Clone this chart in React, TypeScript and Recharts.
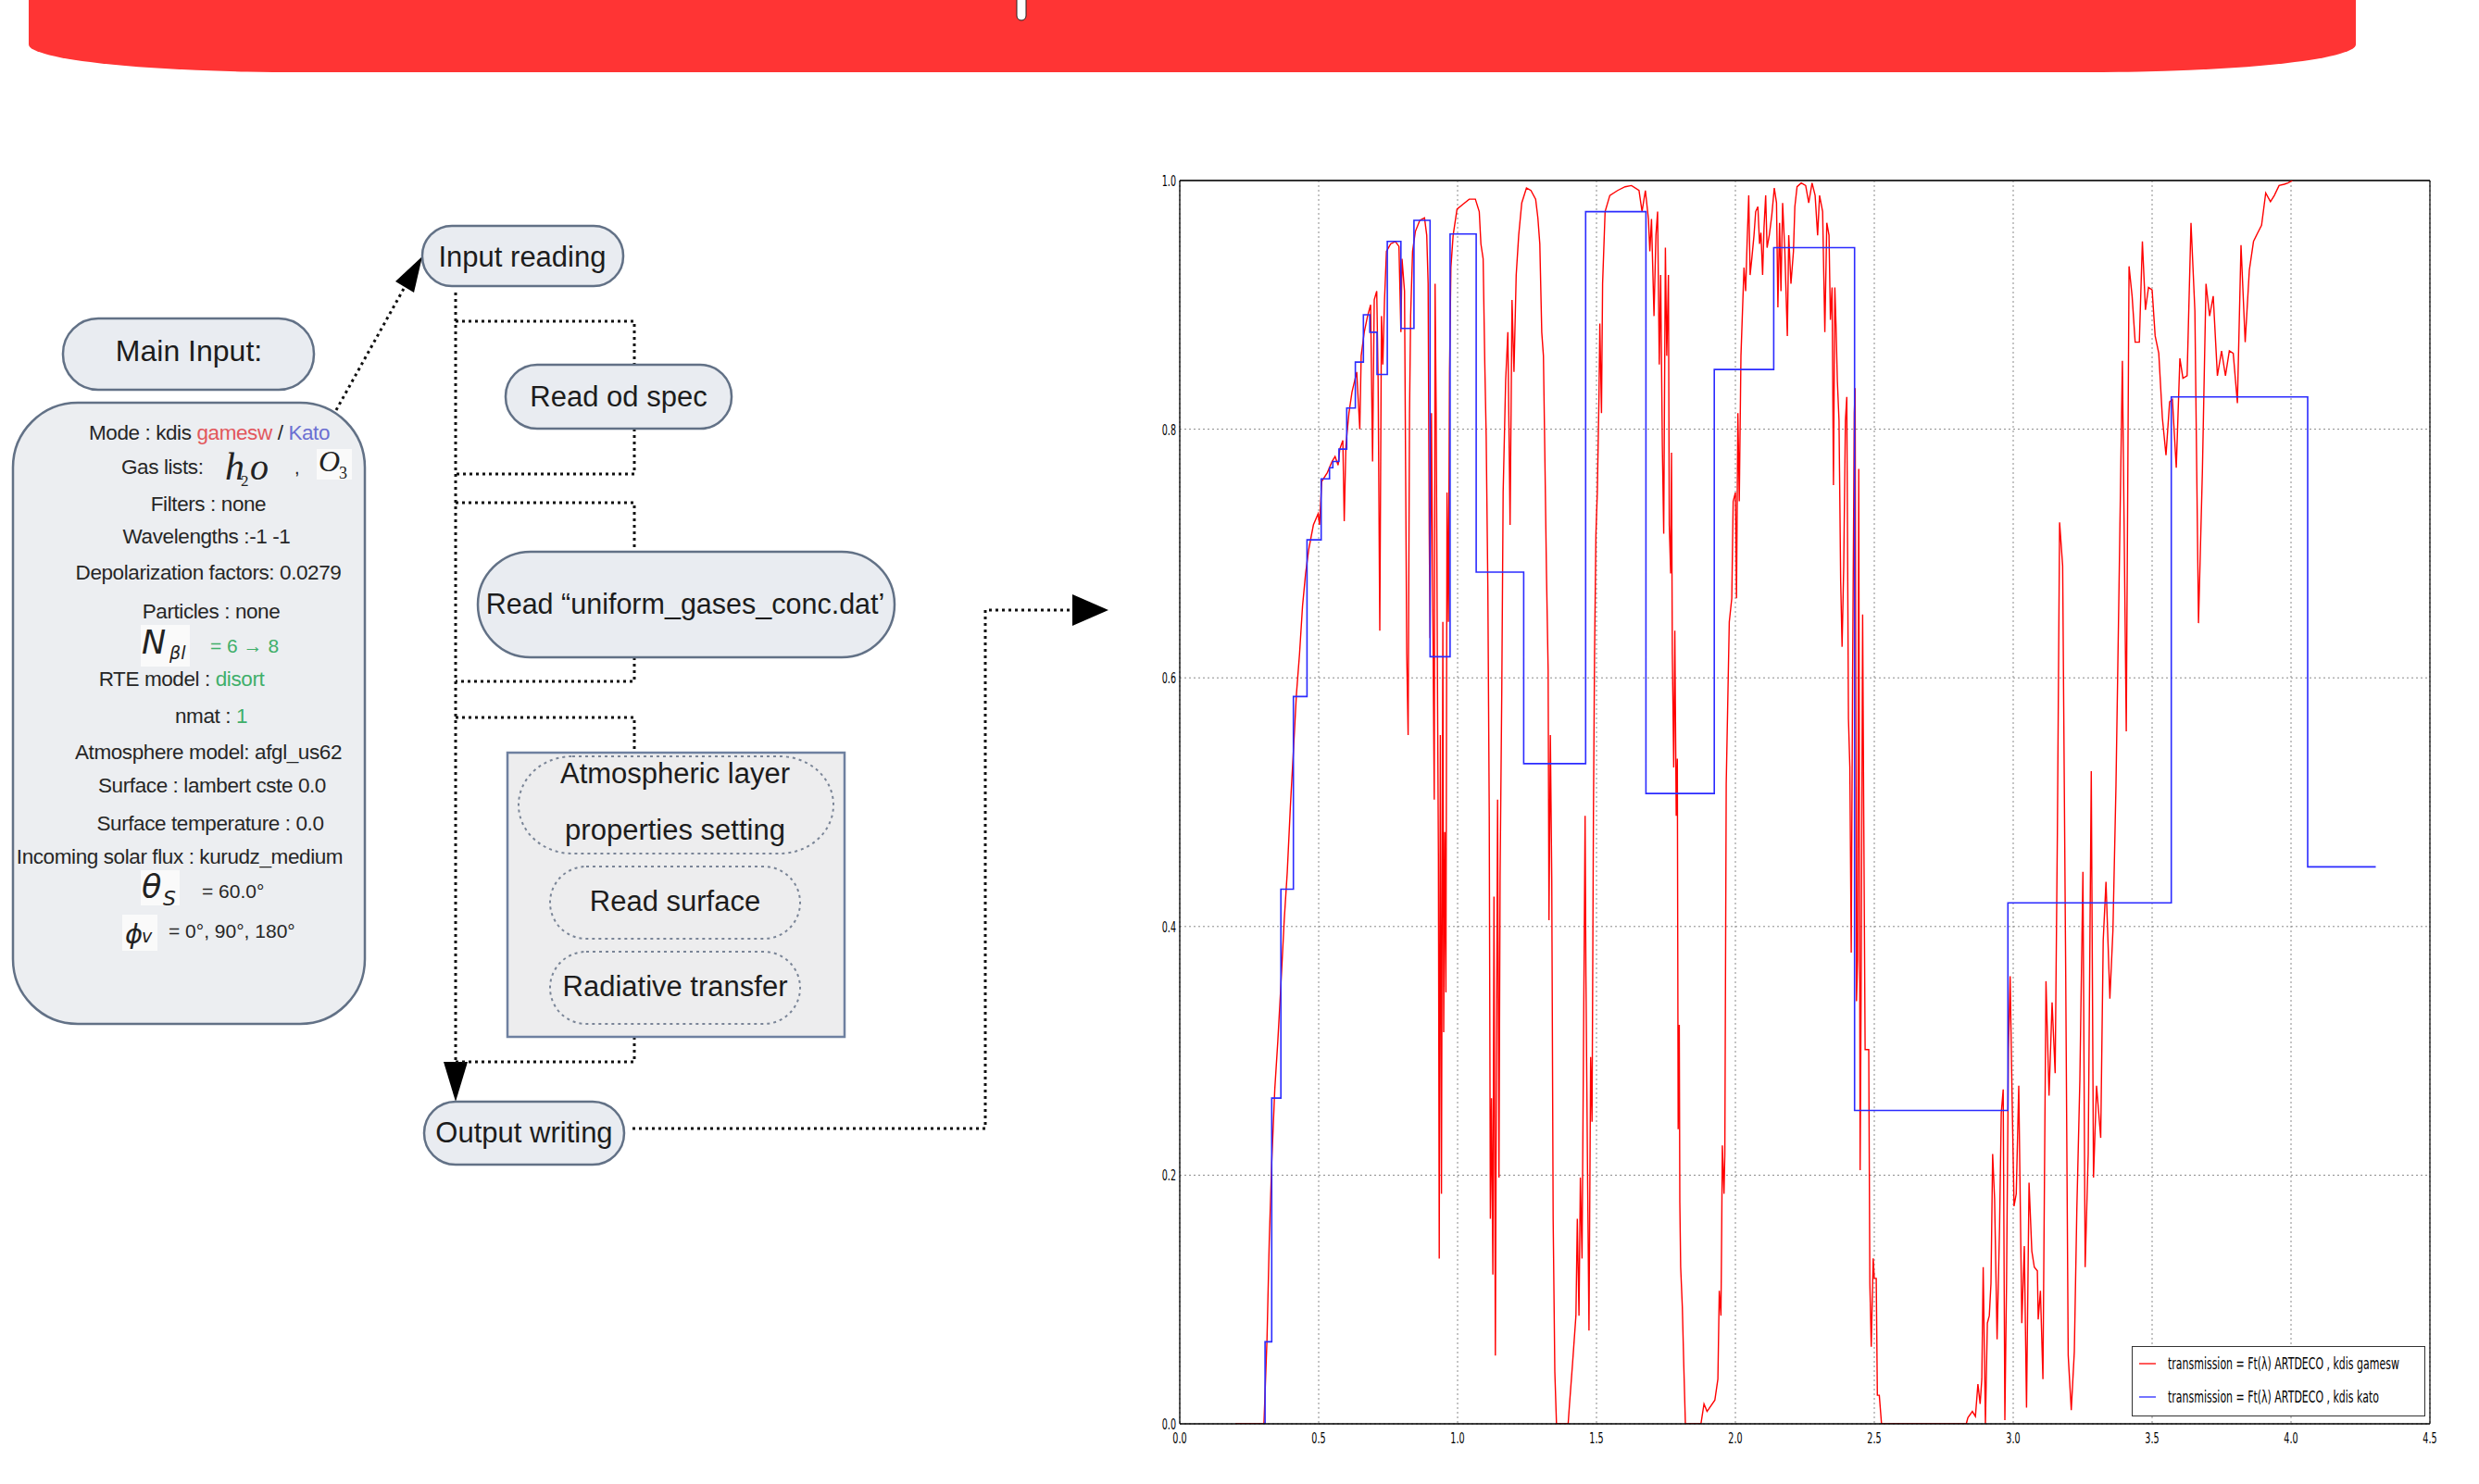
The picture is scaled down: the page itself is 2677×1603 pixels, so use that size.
import React from 'react';
import { LineChart, Line, XAxis, YAxis, CartesianGrid, ReferenceLine } from 'recharts';

// ---------------- chart data ----------------
const xTicks = [0, 0.5, 1.0, 1.5, 2.0, 2.5, 3.0, 3.5, 4.0, 4.5];
const yTicks = [0, 0.2, 0.4, 0.6, 0.8, 1.0];

const legendLabels = [
  'transmission = Ft(\u03bb) ARTDECO , kdis gamesw',
  'transmission = Ft(\u03bb) ARTDECO , kdis kato',
];

// kdis kato: step start wavelength (µm) and transmission
const katoWavelength = [0.30, 0.307, 0.331, 0.364, 0.409, 0.458, 0.509, 0.539, 0.551, 0.573, 0.601, 0.632, 0.661, 0.684, 0.71, 0.747, 0.796, 0.843, 0.901, 0.973, 1.067, 1.238, 1.461, 1.678, 1.924, 2.138, 2.429, 2.981, 3.569, 4.06, 4.305];
const katoTransmission = [0, 0.066, 0.262, 0.43, 0.585, 0.711, 0.76, 0.769, 0.774, 0.784, 0.817, 0.854, 0.892, 0.878, 0.844, 0.951, 0.881, 0.968, 0.617, 0.957, 0.685, 0.531, 0.975, 0.507, 0.848, 0.946, 0.252, 0.419, 0.826, 0.448, 0.448];

// kdis gamesw: [wavelength, transmission]
const gameswUV = [
  [0.2, 0], [0.303, 0], [0.314, 0.068], [0.322, 0.146], [0.331, 0.21], [0.342, 0.269], [0.353, 0.308],
  [0.364, 0.353], [0.376, 0.405], [0.387, 0.444], [0.398, 0.496], [0.409, 0.541], [0.42, 0.587],
  [0.431, 0.619], [0.442, 0.658], [0.453, 0.684], [0.464, 0.703], [0.481, 0.723], [0.498, 0.732],
  [0.503, 0.723], [0.511, 0.758],
];
const gameswVis = [
  [0.531, 0.765], [0.548, 0.774], [0.559, 0.778], [0.57, 0.771], [0.576, 0.784], [0.587, 0.791], [0.592, 0.726],
  [0.598, 0.787], [0.609, 0.813], [0.62, 0.83], [0.637, 0.846], [0.648, 0.8], [0.653, 0.859], [0.664, 0.878],
  [0.676, 0.891], [0.687, 0.9], [0.694, 0.774], [0.7, 0.904], [0.709, 0.911], [0.714, 0.839], [0.72, 0.638],
  [0.726, 0.891], [0.731, 0.852], [0.737, 0.904], [0.744, 0.943], [0.759, 0.949], [0.776, 0.951], [0.789, 0.947],
  [0.796, 0.878], [0.8, 0.937], [0.809, 0.911], [0.817, 0.619], [0.822, 0.554], [0.827, 0.813], [0.831, 0.891],
  [0.838, 0.943], [0.848, 0.959], [0.864, 0.968], [0.881, 0.97], [0.889, 0.956], [0.894, 0.917], [0.898, 0.716],
  [0.901, 0.632], [0.906, 0.813], [0.911, 0.653], [0.916, 0.502], [0.919, 0.917], [0.923, 0.813], [0.928, 0.58],
  [0.931, 0.457], [0.934, 0.133], [0.938, 0.554], [0.942, 0.185], [0.947, 0.645], [0.95, 0.315], [0.954, 0.476],
  [0.958, 0.347], [0.962, 0.749], [0.967, 0.645], [0.971, 0.846], [0.976, 0.93], [0.984, 0.956], [0.998, 0.977],
];
const gameswNir1 = [
  [1.02, 0.981], [1.042, 0.985], [1.064, 0.985], [1.078, 0.975], [1.084, 0.949], [1.092, 0.937], [1.098, 0.852],
  [1.103, 0.794], [1.109, 0.671], [1.114, 0.489], [1.118, 0.165], [1.122, 0.262], [1.127, 0.12], [1.131, 0.424],
  [1.136, 0.055], [1.14, 0.295], [1.144, 0.502], [1.149, 0.198], [1.153, 0.441], [1.159, 0.587], [1.164, 0.749],
  [1.173, 0.839], [1.181, 0.878], [1.189, 0.723], [1.196, 0.904], [1.203, 0.846], [1.211, 0.924], [1.22, 0.956],
  [1.231, 0.982], [1.248, 0.994], [1.264, 0.992], [1.281, 0.985], [1.289, 0.97], [1.296, 0.949], [1.303, 0.878],
  [1.309, 0.859], [1.314, 0.781], [1.32, 0.684], [1.326, 0.606], [1.329, 0.405], [1.334, 0.554], [1.339, 0.437],
  [1.344, 0.165], [1.35, 0.042], [1.356, 0], [1.398, 0], [1.403, 0.016], [1.414, 0.049], [1.426, 0.087],
  [1.431, 0.165], [1.437, 0.087], [1.442, 0.198], [1.448, 0.133], [1.453, 0.295], [1.459, 0.489], [1.462, 0.36],
  [1.468, 0.198], [1.473, 0.075], [1.479, 0.295], [1.484, 0.243], [1.489, 0.489], [1.493, 0.619], [1.498, 0.716],
  [1.503, 0.749], [1.509, 0.826], [1.512, 0.885], [1.518, 0.813], [1.522, 0.917], [1.531, 0.975], [1.548, 0.988],
];
const gameswNir2 = [
  [1.576, 0.992], [1.603, 0.995], [1.626, 0.996], [1.653, 0.992], [1.664, 0.975], [1.676, 0.992], [1.687, 0.969],
  [1.692, 0.943], [1.698, 0.969], [1.707, 0.891], [1.714, 0.956], [1.72, 0.975], [1.726, 0.852], [1.731, 0.924],
  [1.737, 0.787], [1.742, 0.716], [1.748, 0.946], [1.753, 0.859], [1.759, 0.924], [1.762, 0.723], [1.767, 0.684],
  [1.77, 0.781], [1.773, 0.619], [1.778, 0.528], [1.782, 0.638], [1.787, 0.489], [1.791, 0.535], [1.794, 0.237],
  [1.798, 0.321], [1.8, 0.178], [1.803, 0.126], [1.809, 0.094], [1.814, 0.049], [1.82, 0], [1.876, 0],
  [1.887, 0.016], [1.898, 0.01], [1.926, 0.019], [1.937, 0.036], [1.942, 0.107], [1.948, 0.087], [1.951, 0.165],
  [1.953, 0.224], [1.959, 0.185], [1.962, 0.217], [1.967, 0.515], [1.972, 0.574], [1.978, 0.645], [1.987, 0.664],
  [1.992, 0.742], [2.0, 0.749], [2.004, 0.664], [2.009, 0.813], [2.014, 0.742], [2.02, 0.859], [2.026, 0.898],
  [2.031, 0.93], [2.037, 0.911], [2.042, 0.949], [2.048, 0.988], [2.053, 0.924], [2.059, 0.937], [2.067, 0.956],
  [2.073, 0.975], [2.081, 0.979], [2.087, 0.949], [2.092, 0.958], [2.098, 0.924], [2.103, 0.962], [2.109, 0.988],
  [2.114, 0.946], [2.122, 0.956], [2.131, 0.972], [2.14, 0.994], [2.148, 0.982], [2.153, 0.898], [2.159, 0.966],
  [2.164, 0.911], [2.17, 0.982], [2.178, 0.943], [2.187, 0.875], [2.192, 0.956], [2.2, 0.917], [2.209, 0.943],
  [2.214, 0.979], [2.222, 0.995], [2.237, 0.998], [2.253, 0.996], [2.264, 0.982], [2.276, 0.998], [2.287, 0.988],
  [2.296, 0.956], [2.303, 0.988], [2.314, 0.975], [2.322, 0.878], [2.329, 0.966], [2.337, 0.956], [2.342, 0.888],
  [2.348, 0.914], [2.353, 0.755], [2.358, 0.914], [2.362, 0.885], [2.367, 0.839], [2.373, 0.807], [2.379, 0.677],
  [2.384, 0.625], [2.39, 0.69], [2.396, 0.807], [2.401, 0.826], [2.407, 0.567], [2.412, 0.528], [2.417, 0.379],
  [2.422, 0.606], [2.428, 0.813], [2.431, 0.833], [2.436, 0.34], [2.44, 0.373], [2.444, 0.768], [2.449, 0.204],
  [2.453, 0.366], [2.458, 0.651], [2.462, 0.489], [2.467, 0.301], [2.48, 0.301], [2.484, 0.113], [2.489, 0.062],
  [2.496, 0.133], [2.5, 0.117], [2.507, 0.117], [2.511, 0.023], [2.518, 0.023], [2.526, 0],
];
const gameswMir = [
  [2.831, 0], [2.837, 0.005], [2.853, 0.01], [2.864, 0.006], [2.873, 0.032], [2.881, 0.016], [2.887, 0.036],
  [2.892, 0.126], [2.9, 0], [2.907, 0.081], [2.914, 0.087], [2.92, 0.113], [2.926, 0.217], [2.933, 0.181],
  [2.942, 0.068], [2.951, 0.159], [2.957, 0.25], [2.964, 0.269], [2.97, 0.003], [2.976, 0.113], [2.983, 0.301],
  [2.989, 0.36], [2.996, 0.262], [3.003, 0.175], [3.011, 0.185], [3.02, 0.272], [3.031, 0.081], [3.04, 0.143],
  [3.048, 0.013], [3.057, 0.194], [3.067, 0.139], [3.076, 0.126], [3.087, 0.123], [3.09, 0.084], [3.098, 0.107],
  [3.107, 0.036], [3.118, 0.356], [3.129, 0.264], [3.14, 0.339], [3.151, 0.282], [3.159, 0.475], [3.167, 0.725],
  [3.178, 0.69], [3.189, 0.362], [3.198, 0.055], [3.209, 0.011], [3.22, 0.058], [3.229, 0.172], [3.24, 0.277],
  [3.251, 0.444], [3.259, 0.126], [3.27, 0.217], [3.281, 0.525], [3.289, 0.198], [3.3, 0.272], [3.315, 0.23],
  [3.324, 0.389], [3.334, 0.436], [3.348, 0.342], [3.359, 0.397], [3.37, 0.514], [3.381, 0.674], [3.393, 0.855],
  [3.407, 0.557], [3.417, 0.931], [3.428, 0.907], [3.439, 0.87], [3.454, 0.87], [3.465, 0.951], [3.476, 0.896],
  [3.487, 0.914], [3.5, 0.912], [3.511, 0.875], [3.524, 0.861], [3.537, 0.809], [3.55, 0.779], [3.563, 0.822],
  [3.573, 0.824], [3.587, 0.769], [3.6, 0.857], [3.611, 0.841], [3.626, 0.843], [3.64, 0.966], [3.654, 0.895],
  [3.667, 0.644], [3.681, 0.766], [3.694, 0.917], [3.707, 0.891], [3.72, 0.907], [3.735, 0.843], [3.75, 0.863],
  [3.764, 0.843], [3.778, 0.863], [3.792, 0.861], [3.807, 0.821], [3.82, 0.948], [3.835, 0.87], [3.85, 0.928],
  [3.865, 0.951], [3.878, 0.957], [3.894, 0.964], [3.909, 0.99], [3.926, 0.983], [3.94, 0.988], [3.957, 0.996],
  [3.976, 0.997], [3.989, 0.998], [4.005, 1.0],
];

const gameswData = [...gameswUV, ...gameswVis, ...gameswNir1, ...gameswNir2, ...gameswMir].map(([x, y]) => ({ x, y }));
const katoData = katoWavelength.map((x, i) => ({ x, y: katoTransmission[i] }));

// ---------------- chart ----------------
const TICK_FONT = "'DejaVu Sans', sans-serif";

const renderXTick = (props: any) => {
  const { x, y, payload } = props;
  return (
    <text transform={`translate(${x},${y + 21}) scale(0.6,1)`} textAnchor="middle" fontSize={16} fontFamily={TICK_FONT} fill="#000">
      {Number(payload.value).toFixed(1)}
    </text>
  );
};
const renderYTick = (props: any) => {
  const { x, y, payload } = props;
  return (
    <text transform={`translate(${x - 4},${y + 6}) scale(0.6,1)`} textAnchor="end" fontSize={16} fontFamily={TICK_FONT} fill="#000">
      {Number(payload.value).toFixed(1)}
    </text>
  );
};

const Chart = () => (
  <LineChart width={1444} height={1418} margin={{ top: 25, right: 20, bottom: 20, left: 30 }}>
    <CartesianGrid stroke="#8a8a8a" strokeDasharray="2 3" strokeWidth={1} />
    <XAxis type="number" dataKey="x" domain={[0, 4.5]} ticks={xTicks} interval={0} allowDataOverflow
      tick={renderXTick} tickLine={false} tickSize={0} tickMargin={0} height={30}
      axisLine={{ stroke: '#000', strokeWidth: 1.3 }} />
    <YAxis type="number" domain={[0, 1]} ticks={yTicks} interval={0} allowDataOverflow
      tick={renderYTick} tickLine={false} tickSize={0} tickMargin={0} width={44}
      axisLine={{ stroke: '#000', strokeWidth: 1.3 }} />
    <ReferenceLine y={1} stroke="#333" strokeWidth={2} />
    <ReferenceLine x={4.5} stroke="#000" strokeWidth={1.2} />
    <Line data={gameswData} dataKey="y" type="linear" stroke="#ff0000" strokeWidth={1.4}
      dot={false} activeDot={false} isAnimationActive={false} />
    <Line data={katoData} dataKey="y" type="stepAfter" stroke="#2b2bff" strokeWidth={1.6}
      dot={false} activeDot={false} isAnimationActive={false} />
  </LineChart>
);

const ChartLegend = () => (
  <div style={{ position: 'absolute', left: 2302, top: 1454, width: 317, height: 76, boxSizing: 'border-box',
    border: '1.5px solid #333', background: '#fff' }}>
    <svg width={314} height={73} style={{ display: 'block' }}>
      <line x1={7} x2={25} y1={18} y2={18} stroke="#ff0000" strokeWidth={1.3} />
      <line x1={7} x2={25} y1={54} y2={54} stroke="#2b2bff" strokeWidth={1.3} />
      <text transform="translate(38,24) scale(0.61,1)" fontSize={18} fontFamily={TICK_FONT} fill="#000">{legendLabels[0]}</text>
      <text transform="translate(38,60) scale(0.61,1)" fontSize={18} fontFamily={TICK_FONT} fill="#000">{legendLabels[1]}</text>
    </svg>
  </div>
);

// ---------------- flowchart ----------------
const SANS = "'Liberation Sans', Arial, sans-serif";
const SERIF = "'Liberation Serif', 'DejaVu Serif', serif";
const PILL_FILL = '#E9ECF1';
const PILL_STROKE = '#627186';
const DOT = { stroke: '#111', strokeWidth: 3, strokeDasharray: '3 4', fill: 'none' } as const;
const GREEN = '#3FAF6A';
const BOX_FS = 22.5;

const BoxText = ({ x, y, children, size = BOX_FS, anchor = 'middle' }: any) => (
  <text x={x} y={y} textAnchor={anchor} fontSize={size} fontFamily={SANS} fill="#262626" letterSpacing={-0.4}>{children}</text>
);

const Flow = () => (
  <svg width={2677} height={1603} style={{ position: 'absolute', left: 0, top: 0 }}>
    {/* banner */}
    <path d="M 31 -10 L 2544 -10 L 2544 48 A 291 30 0 0 1 2253 78 L 324 78 A 293 30 0 0 1 31 48 Z" fill="#FF3434" />
    <path d="M 1098 -2 L 1098 17 A 5 5 0 0 0 1108 17 L 1108 -2 Z" fill="#fff" stroke="#222" strokeWidth={1} />

    {/* Main input */}
    <rect x={68} y={344} width={271} height={77} rx={38} fill={PILL_FILL} stroke={PILL_STROKE} strokeWidth={2.5} />
    <text x={204} y={390} textAnchor="middle" fontSize={32} fontFamily={SANS} fill="#1c1c1c">Main Input:</text>

    <rect x={14} y={435} width={380} height={671} rx={70} fill="#ECEEF1" stroke={PILL_STROKE} strokeWidth={2.5} />
    <text x={226} y={475} textAnchor="middle" fontSize={BOX_FS} fontFamily={SANS} fill="#262626" letterSpacing={-0.4}>
      <tspan>Mode : kdis </tspan><tspan fill="#E2575C">gamesw</tspan><tspan> / </tspan><tspan fill="#6B6FD2">Kato</tspan>
    </text>
    <BoxText x={131} y={512} anchor="start">Gas lists:</BoxText>
    <text x={243} y={518} fontSize={42} fontFamily={SERIF} fontStyle="italic" fill="#222">h</text>
    <text x={260} y={525} fontSize={17} fontFamily={SERIF} fill="#222">2</text>
    <text x={270} y={518} fontSize={40} fontFamily={SERIF} fontStyle="italic" fill="#222">o</text>
    <text x={318} y={512} fontSize={20} fontFamily={SANS} fill="#222">,</text>
    <rect x={342} y={485} width={38} height={33} fill="#FAFAFA" />
    <text x={344} y={509} fontSize={32} fontFamily={SERIF} fontStyle="italic" fill="#222">O</text>
    <text x={366} y={517} fontSize={18} fontFamily={SERIF} fill="#222">3</text>
    <BoxText x={225} y={552}>Filters : none</BoxText>
    <BoxText x={223} y={587}>Wavelengths :-1 -1</BoxText>
    <BoxText x={225} y={626}>Depolarization factors:  0.0279</BoxText>
    <BoxText x={228} y={668}>Particles : none</BoxText>
    <rect x={152} y={675} width={53} height={45} fill="#FAFAFA" />
    <text x={153} y={706} fontSize={35} fontFamily="'DejaVu Sans', sans-serif" fontStyle="italic" fill="#222">N</text>
    <text x={183} y={712} fontSize={19} fontFamily="'DejaVu Sans', sans-serif" fontStyle="italic" fill="#222">βl</text>
    <text x={227} y={705} fontSize={21} fontFamily={SANS} fill={GREEN}>= 6 → 8</text>
    <text x={196} y={741} textAnchor="middle" fontSize={BOX_FS} fontFamily={SANS} fill="#262626" letterSpacing={-0.4}>
      <tspan>RTE model : </tspan><tspan fill={GREEN}>disort</tspan>
    </text>
    <text x={228} y={781} textAnchor="middle" fontSize={BOX_FS} fontFamily={SANS} fill="#262626" letterSpacing={-0.4}>
      <tspan>nmat : </tspan><tspan fill={GREEN}>1</tspan>
    </text>
    <BoxText x={225} y={820}>Atmosphere model: afgl_us62</BoxText>
    <BoxText x={229} y={856}>Surface : lambert  cste 0.0</BoxText>
    <BoxText x={227} y={897}>Surface temperature : 0.0</BoxText>
    <BoxText x={194} y={933}>Incoming solar flux : kurudz_medium</BoxText>
    <rect x={152} y={940} width={42} height={38} fill="#FAFAFA" />
    <text x={153} y={970} fontSize={35} fontFamily="'DejaVu Sans', sans-serif" fontStyle="italic" fill="#222">θ</text>
    <text x={176} y={978} fontSize={22} fontFamily="'DejaVu Sans', sans-serif" fontStyle="italic" fill="#222">S</text>
    <text x={218} y={970} fontSize={21} fontFamily={SANS} fill="#262626">= 60.0°</text>
    <rect x={132} y={988} width={38} height={39} fill="#FAFAFA" />
    <text x={135} y={1019} fontSize={29} fontFamily="'DejaVu Sans', sans-serif" fontStyle="italic" fill="#222">ϕ</text>
    <text x={153} y={1018} fontSize={19} fontFamily="'DejaVu Sans', sans-serif" fontStyle="italic" fill="#222">v</text>
    <text x={182} y={1013} fontSize={21} fontFamily={SANS} fill="#262626">=  0°, 90°, 180°</text>

    {/* arrow main input -> input reading */}
    <line x1={363} y1={443} x2={437} y2={310} {...DOT} />
    <polygon points="456,277 447,316 427,304" fill="#000" />

    {/* Input reading */}
    <rect x={456} y={244} width={217} height={65} rx={32} fill={PILL_FILL} stroke={PILL_STROKE} strokeWidth={2.5} />
    <text x={564} y={288} textAnchor="middle" fontSize={31} fontFamily={SANS} fill="#1c1c1c">Input reading</text>

    {/* main vertical dotted line with arrow down */}
    <line x1={492} y1={316} x2={492} y2={1150} {...DOT} />
    <polygon points="479,1147 505,1147 492,1190" fill="#000" />

    {/* bracket 1 */}
    <polyline points="492,347 685,347 685,394" {...DOT} />
    <polyline points="685,463 685,512 492,512" {...DOT} />
    <rect x={546} y={394} width={244} height={69} rx={34} fill={PILL_FILL} stroke={PILL_STROKE} strokeWidth={2.5} />
    <text x={668} y={439} textAnchor="middle" fontSize={31} fontFamily={SANS} fill="#1c1c1c">Read od spec</text>

    {/* bracket 2 */}
    <polyline points="492,543 685,543 685,596" {...DOT} />
    <polyline points="685,710 685,736 492,736" {...DOT} />
    <rect x={516} y={596} width={450} height={114} rx={57} fill={PILL_FILL} stroke={PILL_STROKE} strokeWidth={2.5} />
    <text x={740} y={663} textAnchor="middle" fontSize={30.5} fontFamily={SANS} fill="#1c1c1c">Read “uniform_gases_conc.dat’</text>

    {/* bracket 3 */}
    <polyline points="492,775 685,775 685,813" {...DOT} />
    <polyline points="685,1120 685,1147 492,1147" {...DOT} />
    <rect x={548} y={813} width={364} height={307} fill="#EDEDEE" stroke="#6E80A0" strokeWidth={2.5} />
    <rect x={560} y={817} width={340} height={105} rx={58} fill="none" stroke="#7A8597" strokeWidth={2} strokeDasharray="3 4" />
    <text x={729} y={846} textAnchor="middle" fontSize={31} fontFamily={SANS} fill="#1c1c1c">Atmospheric layer</text>
    <text x={729} y={907} textAnchor="middle" fontSize={31} fontFamily={SANS} fill="#1c1c1c">properties setting</text>
    <rect x={594} y={936} width={270} height={78} rx={39} fill="none" stroke="#7A8597" strokeWidth={2} strokeDasharray="3 4" />
    <text x={729} y={984} textAnchor="middle" fontSize={31} fontFamily={SANS} fill="#1c1c1c">Read surface</text>
    <rect x={594} y={1028} width={270} height={78} rx={39} fill="none" stroke="#7A8597" strokeWidth={2} strokeDasharray="3 4" />
    <text x={729} y={1076} textAnchor="middle" fontSize={31} fontFamily={SANS} fill="#1c1c1c">Radiative transfer</text>

    {/* Output writing */}
    <rect x={458} y={1190} width={216} height={68} rx={34} fill={PILL_FILL} stroke={PILL_STROKE} strokeWidth={2.5} />
    <text x={566} y={1234} textAnchor="middle" fontSize={31} fontFamily={SANS} fill="#1c1c1c">Output writing</text>

    {/* output -> chart */}
    <polyline points="683,1219 1064,1219 1064,659 1160,659" {...DOT} />
    <polygon points="1158,642 1197,659 1158,676" fill="#000" />
  </svg>
);

export default function App() {
  return (
    <div style={{ position: 'absolute', left: 0, top: 0, width: 2677, height: 1603, background: '#fff', overflow: 'hidden' }}>
      <Flow />
      <div style={{ position: 'absolute', left: 1200, top: 170 }}>
        <Chart />
      </div>
      <ChartLegend />
    </div>
  );
}
